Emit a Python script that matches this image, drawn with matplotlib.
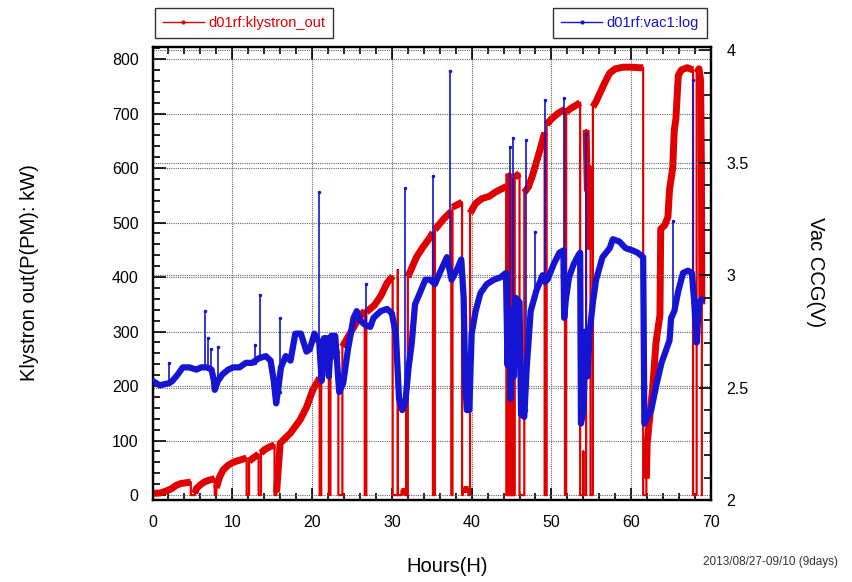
import matplotlib
matplotlib.use("Agg")
import matplotlib.pyplot as plt
from matplotlib.lines import Line2D
from matplotlib.ticker import MultipleLocator, FuncFormatter

plt.rcParams["font.family"] = ["Liberation Sans", "DejaVu Sans"]

RED = "#e00000"
BLUE = "#1414d2"

# klystron output (kW): continuous stretches between RF trips; the trace falls to 0 between them
red_segments = [
    [(0.0, 3), (1.0, 4), (1.6, 7), (2.3, 11), (3.0, 18), (3.5, 21), (4.8, 24)],
    [(5.3, 3), (5.5, 12), (6.0, 19), (6.5, 24), (7.0, 27), (7.8, 30)],
    [(8.0, 13), (8.4, 33), (8.85, 46), (9.5, 55), (10.1, 60), (10.9, 64), (11.8, 68)],
    [(12.1, 62), (12.6, 68), (13.3, 75)],
    [(13.6, 77), (14.0, 83), (14.6, 88), (15.3, 92)],
    [(15.55, 5), (16.0, 95), (16.4, 101), (17.3, 114), (18.5, 138), (19.3, 161),
     (20.1, 193), (20.8, 211), (20.95, 215)],
    [(21.15, 230), (21.6, 240), (22.1, 248)],
    [(22.3, 252), (22.8, 260), (23.3, 266)],
    [(23.8, 272), (24.5, 290), (25.5, 315), (26.0, 328), (26.6, 338)],
    [(26.8, 336), (27.3, 342), (27.8, 348), (28.6, 365), (29.4, 389), (30.0, 400), (30.1, 402)],
    [(30.75, 413)],
    [(31.2, 8), (31.6, 8)],
    [(31.8, 168)],
    [(32.0, 400), (33.1, 437), (33.9, 455), (34.8, 473), (35.15, 482)],
    [(35.4, 487), (36.4, 505), (37.2, 517), (37.45, 520)],
    [(37.6, 528), (38.5, 535), (38.8, 537)],
    [(38.9, 12), (39.6, 12)],
    [(39.8, 517), (40.5, 535), (41.3, 544), (42.2, 548), (43.0, 556), (43.8, 562), (44.35, 566)],
    [(44.5, 575)],
    [(44.6, 280), (44.65, 590)],
    [(44.8, 260)],
    [(44.9, 585)],
    [(45.05, 270)],
    [(45.15, 580)],
    [(45.25, 250)],
    [(45.4, 583), (46.0, 590)],
    [(46.6, 555), (47.1, 565), (47.6, 585), (48.1, 610), (48.6, 635), (49.15, 665)],
    [(49.4, 680), (50.0, 690), (50.8, 700), (51.7, 708)],
    [(51.85, 703), (52.5, 710), (53.2, 716), (53.6, 720)],
    [(54.0, 80)],
    [(54.35, 670), (54.5, 560), (54.7, 600), (54.9, 450)],
    [(55.2, 712), (55.6, 722), (56.1, 738), (56.7, 757), (57.3, 774), (58.0, 782),
     (59.0, 785), (60.0, 785), (61.0, 784), (61.5, 784)],
    [(61.9, 30), (62.0, 95), (62.2, 125), (62.7, 198), (63.1, 279), (63.4, 310), (63.6, 330),
     (63.7, 488), (64.2, 495), (64.6, 510), (64.8, 560), (65.2, 600), (65.4, 670), (65.6, 690),
     (65.9, 770), (66.3, 780), (67.0, 784), (67.75, 780)],
    [(68.2, 775), (68.5, 782), (68.7, 760), (68.8, 600), (68.85, 350)],
]

# vacuum gauge (V), one continuous trace
blue_hours = [
    0.0, 0.9, 2.1, 2.5, 3.2, 3.8, 4.6, 5.5, 6.1, 6.8, 7.4, 7.7, 7.8, 8.2, 8.8, 9.5, 10.1,
    10.9, 11.7, 12.5, 13.3, 14.2, 14.8, 15.2, 15.5, 15.7, 16.1, 16.7, 17.3, 17.9, 18.6,
    19.3, 19.7, 20.3, 20.9, 21.2, 21.5, 21.8, 22.1, 22.4, 22.9, 23.4, 23.9, 24.5, 25.2,
    25.6, 26.0, 26.6, 27.3, 27.7, 28.6, 29.4, 30.0, 30.5, 30.9, 31.3, 31.7, 32.1, 32.5,
    32.9, 33.5, 34.2, 34.8, 35.4, 36.0, 36.9, 37.5, 38.1, 38.7, 39.0, 39.2, 39.4, 39.7,
    40.0, 40.5, 41.1, 41.9, 42.8, 43.6, 44.3, 44.5, 44.7, 44.9, 45.1, 45.3, 45.5, 46.0,
    46.2, 46.6, 46.9, 47.4, 48.1, 48.9, 49.2, 49.5, 50.3, 51.0, 51.5, 51.6, 51.8, 52.2,
    52.8, 53.4, 53.6, 53.7, 54.0, 54.3, 54.5, 54.8, 55.2, 55.6, 56.4, 57.3, 57.7, 58.5,
    59.3, 60.2, 60.8, 61.5, 61.65, 61.9, 62.5, 63.2, 63.8, 64.4, 64.8, 65.0, 65.4, 65.9,
    66.5, 67.1, 67.6, 67.9, 68.2, 68.5, 68.8,
]
blue_volts = [
    2.53, 2.51, 2.52, 2.53, 2.56, 2.59, 2.59, 2.58, 2.59, 2.59, 2.58, 2.53, 2.49, 2.53,
    2.56, 2.58, 2.59, 2.59, 2.61, 2.61, 2.63, 2.64, 2.62, 2.53, 2.43, 2.48, 2.59, 2.64,
    2.62, 2.74, 2.74, 2.66, 2.67, 2.74, 2.70, 2.53, 2.72, 2.72, 2.55, 2.73, 2.73, 2.48,
    2.52, 2.67, 2.81, 2.84, 2.80, 2.78, 2.77, 2.81, 2.84, 2.85, 2.83, 2.74, 2.45, 2.40,
    2.44, 2.59, 2.70, 2.87, 2.92, 2.98, 2.98, 2.96, 3.01, 3.08, 2.98, 3.02, 3.07, 2.90,
    2.52, 2.40, 2.40, 2.74, 2.84, 2.92, 2.96, 2.98, 2.99, 3.01, 2.60, 2.85, 2.45, 2.80,
    2.55, 2.90, 2.88, 2.38, 2.37, 2.59, 2.84, 2.93, 3.00, 2.97, 2.98, 3.05, 3.10, 3.11,
    2.81, 2.89, 2.99, 3.05, 3.09, 3.10, 2.34, 2.40, 2.75, 2.55, 2.75, 2.88, 2.98, 3.08,
    3.12, 3.16, 3.15, 3.12, 3.11, 3.10, 3.08, 2.34, 2.36, 2.40, 2.52, 2.61, 2.67, 2.71,
    2.81, 2.84, 2.93, 3.01, 3.02, 3.01, 2.88, 2.70, 2.88, 2.89,
]
# short pressure bursts: (hour, base V, peak V)
blue_spikes = [
    (2.1, 2.52, 2.61), (6.6, 2.59, 2.84), (6.95, 2.59, 2.72), (7.3, 2.58, 2.67),
    (8.2, 2.55, 2.68), (12.9, 2.61, 2.69), (13.5, 2.63, 2.91), (16.0, 2.48, 2.81),
    (20.9, 2.70, 3.37), (26.8, 2.77, 2.96), (31.6, 2.42, 3.39), (35.2, 2.96, 3.44),
    (37.3, 2.98, 3.91), (44.8, 2.70, 3.57), (45.2, 2.70, 3.61), (46.8, 2.40, 3.60),
    (48.0, 2.90, 3.19), (49.2, 2.98, 3.78), (51.6, 2.85, 3.79), (54.3, 2.70, 3.63),
    (65.2, 2.82, 3.24), (67.7, 3.00, 3.87),
]

fig = plt.figure(figsize=(8.52, 5.82), dpi=100)
ax = fig.add_axes([152.5 / 852, 1 - 500 / 582, 558.5 / 852, 453 / 582])
ax2 = ax.twinx()

# red: thin full trace with the trips, thick band over the running stretches
rx, ry = [], []
for seg in red_segments:
    hs = [p[0] for p in seg]
    vs = [p[1] for p in seg]
    rx += [hs[0]] + hs + [hs[-1]]
    ry += [0] + vs + [0]
    if len(seg) > 1:
        ax.plot(hs, vs, color=RED, lw=5, solid_capstyle="butt", zorder=3)
ax.plot(rx, ry, color=RED, lw=1.6, zorder=3)

ax2.plot(blue_hours, blue_volts, color=BLUE, lw=4.5, zorder=3)
for h, base, peak in blue_spikes:
    ax2.plot([h, h], [base, peak], color=BLUE, lw=1.2, marker=".", markersize=3, zorder=3)

ax.set_xlim(0, 70)
ax.set_ylim(-9, 822)
ax2.set_ylim(2, 4.015)

ax.xaxis.set_major_locator(MultipleLocator(10))
ax.xaxis.set_minor_locator(MultipleLocator(2))
ax.yaxis.set_major_locator(MultipleLocator(100))
ax.yaxis.set_minor_locator(MultipleLocator(20))
ax2.yaxis.set_major_locator(MultipleLocator(0.5))
ax2.yaxis.set_minor_locator(MultipleLocator(0.1))
ax2.yaxis.set_major_formatter(FuncFormatter(lambda v, p: f"{v:g}"))

ax.tick_params(which="both", direction="in", top=True, right=False, width=1.2,
               labelsize=11.5, colors="black")
ax.tick_params(which="major", length=9)
ax.tick_params(which="minor", length=5)
ax.tick_params(axis="x", pad=11)
ax.tick_params(axis="y", pad=10)
ax2.tick_params(which="both", direction="in", width=1.2, labelsize=11.5, pad=11)
ax2.tick_params(which="major", length=9)
ax2.tick_params(which="minor", length=5)

grid_kw = dict(color="0.4", lw=0.8, linestyle=(0, (1, 1)))
ax.grid(True, which="major", **grid_kw)
ax2.grid(True, which="major", axis="y", **grid_kw)
ax.set_axisbelow(True)

for a in (ax, ax2):
    for sp in a.spines.values():
        sp.set_linewidth(1.6)

fig.text(30 / 852, 1 - 273 / 582, "Klystron out(P(PM): kW)", rotation=90,
         ha="center", va="center", fontsize=14.5)
fig.text(815 / 852, 1 - 272 / 582, "Vac CCG(V)", rotation=270,
         ha="center", va="center", fontsize=14.5)
fig.text(447 / 852, 1 - 567 / 582, "Hours(H)", ha="center", va="center", fontsize=14.5)
fig.text(838 / 852, 1 - 562 / 582, "2013/08/27-09/10 (9days)", ha="right", va="center",
         fontsize=8.5, color="0.2")

leg_kw = dict(fontsize=10.5, frameon=True, fancybox=False, borderpad=0.55, handlelength=2.8,
              handletextpad=0.3, borderaxespad=0)
h_red = Line2D([], [], color=RED, lw=1, marker=".", markersize=4)
h_blue = Line2D([], [], color=BLUE, lw=1, marker=".", markersize=4)
leg1 = fig.legend([h_red], ["d01rf:klystron_out"], loc="upper left",
                  bbox_to_anchor=(155 / 852, 1 - 8 / 582), labelcolor=RED, **leg_kw)
leg2 = fig.legend([h_blue], ["d01rf:vac1:log"], loc="upper right",
                  bbox_to_anchor=(707 / 852, 1 - 8 / 582), labelcolor=BLUE, **leg_kw)
for leg in (leg1, leg2):
    leg.get_frame().set_edgecolor("black")
    leg.get_frame().set_linewidth(1.0)

fig.savefig("out.png", dpi=100)
